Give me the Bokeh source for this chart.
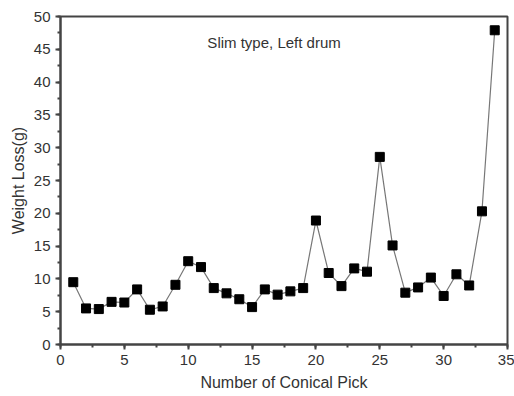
from bokeh.plotting import figure
from bokeh.models import Range1d, SingleIntervalTicker, Label
from bokeh.embed import file_html
from bokeh.resources import INLINE

pick = list(range(1, 35))
weight_loss = [9.5, 5.5, 5.4, 6.5, 6.4, 8.4, 5.3, 5.8, 9.1, 12.7,
               11.8, 8.6, 7.8, 6.9, 5.7, 8.4, 7.6, 8.1, 8.6, 18.9,
               10.9, 8.9, 11.6, 11.1, 28.6, 15.1, 7.9, 8.7, 10.2, 7.4,
               10.7, 9.0, 20.3, 47.9]

p = figure(width=514, height=396, output_backend="svg", toolbar_location=None,
           x_range=Range1d(0, 35), y_range=Range1d(0, 50),
           min_border_left=60, min_border_right=7, min_border_top=16, min_border_bottom=52)
p.xgrid.visible = False
p.ygrid.visible = False
p.outline_line_color = "#444444"
p.outline_line_width = 2
p.background_fill_color = "white"
p.border_fill_color = "white"

for ax in (p.xaxis, p.yaxis):
    ax.ticker = SingleIntervalTicker(interval=5, num_minor_ticks=2)
    ax.axis_line_color = "#444444"
    ax.axis_line_width = 2
    ax.major_tick_line_color = "#444444"
    ax.major_tick_line_width = 2
    ax.minor_tick_line_color = "#444444"
    ax.minor_tick_line_width = 2
    ax.major_tick_out = 5
    ax.major_tick_in = 0
    ax.minor_tick_out = 3
    ax.minor_tick_in = 0
    ax.major_label_text_font = "Liberation Sans"
    ax.major_label_text_font_size = "15px"
    ax.major_label_text_color = "#333333"
    ax.axis_label_text_font = "Liberation Sans"
    ax.axis_label_text_font_size = "16px"
    ax.axis_label_text_font_style = "normal"
    ax.axis_label_text_color = "#333333"

p.xaxis.axis_label = "Number of Conical Pick"
p.yaxis.axis_label = "Weight Loss(g)"
p.yaxis.major_label_orientation = 0
p.xaxis.axis_label_standoff = 6
p.yaxis.axis_label_standoff = 4

p.line(pick, weight_loss, line_color="#777777", line_width=1.2)
p.scatter(pick, weight_loss, marker="square", size=9, fill_color="black", line_color="black")

p.add_layout(Label(x=11.5, y=46, text="Slim type, Left drum", text_font="Liberation Sans",
                   text_font_size="15px", text_color="#333333", text_baseline="middle"))

open("out.html", "w").write(file_html(p, INLINE))
